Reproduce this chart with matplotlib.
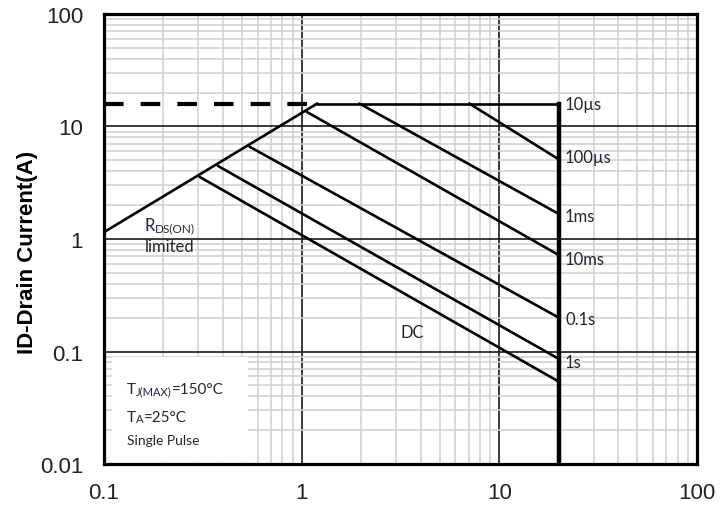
import matplotlib.pyplot as plt
from matplotlib.patches import Rectangle
from matplotlib.ticker import LogLocator, NullFormatter

# =========================
# DATA
# =========================
V_MAX = 20.0          # drain-source voltage limit (V)
I_MAX = 16.0          # pulsed drain current limit (A)

# RDS(on) limit line
rds_v = [0.1, 1.2]
rds_i = [1.15, 16.0]

# dashed extension of the current limit
dash_v = [0.1, 1.06]

# pulse-width lines: start point on the limit, end current at V_MAX
pulse_names = ["100µs", "1ms", "10ms", "0.1s", "1s", "DC"]
pulse_v_start = [7.05, 1.96, 1.06, 0.546, 0.377, 0.305]
pulse_i_start = [16.0, 16.0, 13.5, 6.6, 4.46, 3.56]
pulse_i_end = [5.1, 1.67, 0.72, 0.2, 0.086, 0.054]

# labels on the right of the voltage limit
end_labels = ["10µs", "100µs", "1ms", "10ms", "0.1s", "1s"]
end_label_i = [16.0, 5.35, 1.6, 0.66, 0.195, 0.081]

x_ticks = [0.1, 1, 10, 100]
x_tick_labels = ["0.1", "1", "10", "100"]
y_ticks = [0.01, 0.1, 1, 10, 100]
y_tick_labels = ["0.01", "0.1", "1", "10", "100"]

LABEL_FONT = "Lato"
LABEL_COLOR = "#24243a"
LINE_W = 1.9

# =========================
# FIGURE
# =========================
fig = plt.figure(figsize=(7.2, 5.06), dpi=100)
ax = fig.add_axes([0.1444, 0.081, 0.8236, 0.8894])
ax.set_xscale("log")
ax.set_yscale("log")
ax.set_xlim(0.1, 100)
ax.set_ylim(0.01, 100)

# grid
ax.set_axisbelow(True)
ax.xaxis.set_minor_locator(LogLocator(base=10, subs=range(2, 10)))
ax.yaxis.set_minor_locator(LogLocator(base=10, subs=range(2, 10)))
ax.xaxis.set_minor_formatter(NullFormatter())
ax.yaxis.set_minor_formatter(NullFormatter())
ax.grid(which="minor", color="#cfcfcf", linewidth=1.1)
ax.grid(which="major", color="#1a1a1a", linewidth=1.2)

ax.set_xticks(x_ticks)
ax.set_xticklabels(x_tick_labels)
ax.set_yticks(y_ticks)
ax.set_yticklabels(y_tick_labels)
ax.tick_params(which="both", length=0)
ax.tick_params(axis="x", pad=13)
ax.tick_params(axis="y", pad=15)
for lab in ax.get_xticklabels() + ax.get_yticklabels():
    lab.set_fontfamily("Liberation Sans")
    lab.set_fontsize(16)
    lab.set_color("#222222")

for sp in ax.spines.values():
    sp.set_linewidth(2.3)
    sp.set_color("black")

ax.set_ylabel("ID-Drain Current(A)", fontsize=16, fontweight="bold",
              family="Liberation Sans", labelpad=1, y=0.473)

# white box behind the conditions text
ax.add_patch(Rectangle((0.0135, 0.004), 0.23, 0.234, transform=ax.transAxes,
                       facecolor="white", edgecolor="none", zorder=1))

# =========================
# SOA LINES
# =========================
ax.plot(dash_v, [I_MAX, I_MAX], color="black", linewidth=3,
        linestyle=(0, (4.7, 4.1)), dash_capstyle="butt", zorder=3)
ax.plot([rds_v[1], V_MAX], [I_MAX, I_MAX], color="black", linewidth=LINE_W,
        solid_capstyle="round", zorder=3)
ax.plot(rds_v, rds_i, color="black", linewidth=LINE_W,
        solid_capstyle="round", zorder=3)
ax.plot([V_MAX, V_MAX], [I_MAX, 0.01], color="black", linewidth=3.2, zorder=3)

for v0, i0, i1 in zip(pulse_v_start, pulse_i_start, pulse_i_end):
    ax.plot([v0, V_MAX], [i0, i1], color="black", linewidth=LINE_W,
            solid_capstyle="round", zorder=3)

# =========================
# TEXT
# =========================
for name, iy in zip(end_labels, end_label_i):
    ax.annotate(name, xy=(V_MAX, iy), xytext=(4.5, 0), textcoords="offset points",
                ha="left", va="center", fontsize=12, family=LABEL_FONT,
                color=LABEL_COLOR)

ax.text(3.64, 0.149, "DC", ha="center", va="center", fontsize=12,
        family=LABEL_FONT, color=LABEL_COLOR)

# RDS(ON) limited, with small-caps subscript
t_r = ax.text(0.161, 1.33, "R", ha="left", va="center", fontsize=12,
              family=LABEL_FONT, color=LABEL_COLOR)
ax.annotate("DS(ON)", xy=(1, 0), xycoords=t_r, ha="left", va="bottom",
            fontsize=8.5, family=LABEL_FONT, color=LABEL_COLOR)
ax.text(0.161, 0.87, "limited", ha="left", va="center", fontsize=12,
        family=LABEL_FONT, color=LABEL_COLOR)


def sub_text(x, y, parts):
    # chain of (text, size) pieces sitting on a common baseline
    prev = ax.text(x, y, parts[0][0], ha="left", va="center", fontsize=parts[0][1],
                   family=LABEL_FONT, color=LABEL_COLOR, zorder=4)
    for txt, size in parts[1:]:
        prev = ax.annotate(txt, xy=(1, 0), xycoords=prev, ha="left", va="bottom",
                           fontsize=size, family=LABEL_FONT, color=LABEL_COLOR,
                           zorder=4)


sub_text(0.131, 0.0465, [("T", 11), ("J(MAX)", 8), ("=150°C", 11)])
sub_text(0.131, 0.0264, [("T", 11), ("A", 8), ("=25°C", 11)])
ax.text(0.131, 0.0162, "Single Pulse", ha="left", va="center", fontsize=10,
        family=LABEL_FONT, color=LABEL_COLOR, zorder=4)

fig.savefig("out.png", dpi=100)
